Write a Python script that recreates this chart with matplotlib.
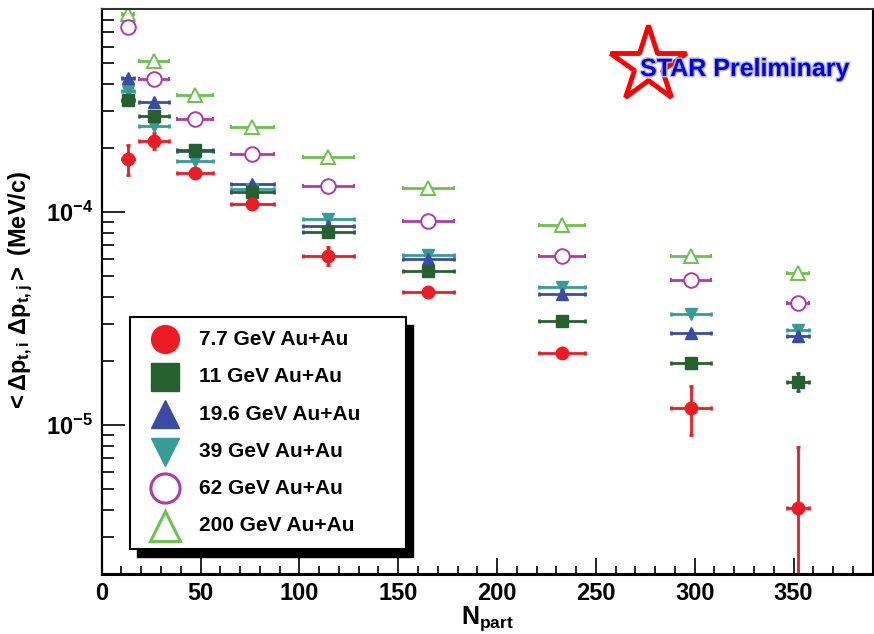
import matplotlib
matplotlib.use('Agg')
import matplotlib.pyplot as plt
import matplotlib.patheffects as pe
from matplotlib.patches import Rectangle

plt.rcParams['font.family'] = ['Liberation Sans', 'DejaVu Sans']
plt.rcParams['font.weight'] = 'bold'
plt.rcParams['mathtext.fontset'] = 'custom'
plt.rcParams['mathtext.rm'] = 'Liberation Sans:bold'
plt.rcParams['mathtext.bf'] = 'Liberation Sans:bold'
plt.rcParams['mathtext.it'] = 'Liberation Sans:bold'

# Npart 中心值和误差
npart = [13.5, 26.6, 47.2, 76.2, 114.7, 165.3, 232.8, 298.2, 352.2]
npart_err = [3, 7.6, 9.1, 11, 13, 13, 11.5, 10, 5.6]

# <dpt dpt> (MeV/c)^2 各能量
v77 = [1.78e-4, 2.17e-4, 1.52e-4, 1.09e-4, 6.24e-5, 4.22e-5, 2.19e-5, 1.21e-5, 4.1e-6]
e77 = [0.28e-4, 0.19e-4, 0.06e-4, 0.04e-4, 0.6e-5, 0.12e-5, 0.08e-5, 0.31e-5, 3.84e-6]
v11 = [3.36e-4, 2.83e-4, 1.95e-4, 1.25e-4, 8.06e-5, 5.28e-5, 3.10e-5, 1.95e-5, 1.60e-5]
e11 = [0.1e-4, 0.08e-4, 0.05e-4, 0.03e-4, 0.2e-5, 0.12e-5, 0.07e-5, 0.06e-5, 0.16e-5]
v196 = [4.29e-4, 3.31e-4, 1.93e-4, 1.35e-4, 8.66e-5, 6.02e-5, 4.13e-5, 2.70e-5, 2.62e-5]
e196 = [0.08e-4, 0.06e-4, 0.04e-4, 0.03e-4, 0.15e-5, 0.1e-5, 0.07e-5, 0.08e-5, 0.12e-5]
v39 = [3.71e-4, 2.53e-4, 1.74e-4, 1.29e-4, 9.3e-5, 6.28e-5, 4.45e-5, 3.31e-5, 2.79e-5]
e39 = [0.06e-4, 0.04e-4, 0.03e-4, 0.02e-4, 0.12e-5, 0.08e-5, 0.05e-5, 0.05e-5, 0.06e-5]
v62 = [7.37e-4, 4.23e-4, 2.75e-4, 1.88e-4, 1.33e-4, 9.1e-5, 6.23e-5, 4.83e-5, 3.73e-5]
e62 = [0.15e-4, 0.05e-4, 0.03e-4, 0.02e-4, 0.12e-5, 0.08e-5, 0.05e-5, 0.05e-5, 0.08e-5]
v200 = [8.5e-4, 5.13e-4, 3.55e-4, 2.51e-4, 1.82e-4, 1.30e-4, 8.75e-5, 6.21e-5, 5.19e-5]
e200 = [0.15e-4, 0.05e-4, 0.03e-4, 0.02e-4, 0.12e-5, 0.08e-5, 0.05e-5, 0.05e-5, 0.08e-5]

labels = ['7.7 GeV Au+Au', '11 GeV Au+Au', '19.6 GeV Au+Au',
          '39 GeV Au+Au', '62 GeV Au+Au', '200 GeV Au+Au']
colors = ['#ED1C24', '#25612F', '#3A4BA3', '#369C98', '#B03AA8', '#6CC24A']
markers = ['o', 's', '^', 'v', 'o', '^']
filled = [True, True, True, True, False, False]
series = [(v77, e77), (v11, e11), (v196, e196), (v39, e39), (v62, e62), (v200, e200)]

fig = plt.figure(figsize=(8.74, 6.34), dpi=100)
ax = fig.add_axes([0.1164, 0.0946, 0.882, 0.8912])

# 先画高能量，低能量在上层
for k in range(5, -1, -1):
    vals, errs = series[k]
    c = colors[k]
    if filled[k]:
        ax.errorbar(npart, vals, xerr=npart_err, yerr=errs, fmt=markers[k], color=c,
                    ms=9, elinewidth=2, capsize=1.5, capthick=2)
    else:
        ax.errorbar(npart, vals, xerr=npart_err, yerr=errs, fmt=markers[k], color=c,
                    mfc='white', mec=c, mew=1.4, ms=10.5, elinewidth=2, capsize=1.5, capthick=2)

ax.set_yscale('log')
ax.set_xlim(0, 390)
ax.set_ylim(2e-6, 9e-4)
ax.set_xticks([0, 50, 100, 150, 200, 250, 300, 350])
ax.set_xticks(range(0, 391, 10), minor=True)
ax.set_yticks([1e-5, 1e-4])
ax.set_yticklabels([r'$10^{-5}$', r'$10^{-4}$'])
ax.tick_params(axis='x', which='major', direction='in', length=11.5, width=1.2,
               labelsize=17, pad=6)
ax.tick_params(axis='x', which='minor', direction='in', length=5.5, width=1.2)
ax.tick_params(axis='y', which='major', direction='in', length=16.5, width=1.2,
               labelsize=17, pad=6)
ax.tick_params(axis='y', which='minor', direction='in', length=8.5, width=1.2)
ax.yaxis.set_minor_formatter(matplotlib.ticker.NullFormatter())
ax.spines['bottom'].set_linewidth(2.2)
ax.spines['left'].set_linewidth(1.6)
ax.spines['top'].set_linewidth(1.5)
ax.spines['top'].set_color('#333333')
ax.spines['right'].set_linewidth(1.5)

ax.set_xlabel(r'$N_{part}$', fontsize=18, labelpad=-1)
ax.set_ylabel(r'${<}\Delta p_{t,i}\ \Delta p_{t,j}{>}$ (MeV/c)', fontsize=17, fontweight='bold')
ax.yaxis.set_label_coords(-0.087, 0.5)

# 图例（带黑色阴影的方框）
lx0, lx1, ly0, ly1 = 0.0367, 0.3948, 0.0442, 0.4549
ax.add_patch(Rectangle((lx0 + 0.0091, ly0 - 0.0142), lx1 - lx0, ly1 - ly0, transform=ax.transAxes,
                       facecolor='black', edgecolor='black', zorder=10, clip_on=False))
ax.add_patch(Rectangle((lx0, ly0), lx1 - lx0, ly1 - ly0, transform=ax.transAxes,
                       facecolor='white', edgecolor='black', lw=1.5, zorder=11, clip_on=False))
rows = [0.4154, 0.3492, 0.2826, 0.2165, 0.1517, 0.0850]
for k in range(6):
    if filled[k]:
        ax.plot([0.0821], [rows[k]], markers[k], color=colors[k], ms=20,
                transform=ax.transAxes, zorder=12, clip_on=False)
    else:
        ax.plot([0.0821], [rows[k]], markers[k], mfc='white', mec=colors[k], mew=2.2, ms=21,
                transform=ax.transAxes, zorder=12, clip_on=False)
    ax.text(0.1262, rows[k], labels[k], transform=ax.transAxes, fontsize=15,
            fontweight='bold', va='center', ha='left', zorder=12)

# STAR Preliminary 标志
ax.plot([0.7081], [0.9012], '*', ms=57, mfc='white', mec='red', mew=3.5,
        transform=ax.transAxes, zorder=12, clip_on=False)
ax.text(0.6984, 0.8814, 'STAR Preliminary', transform=ax.transAxes, fontsize=18,
        fontweight='bold', color='#0000EE', ha='left', va='baseline', zorder=13,
        path_effects=[pe.withStroke(linewidth=2, foreground='#B8B8D8')])

fig.savefig('out.png', dpi=100)
